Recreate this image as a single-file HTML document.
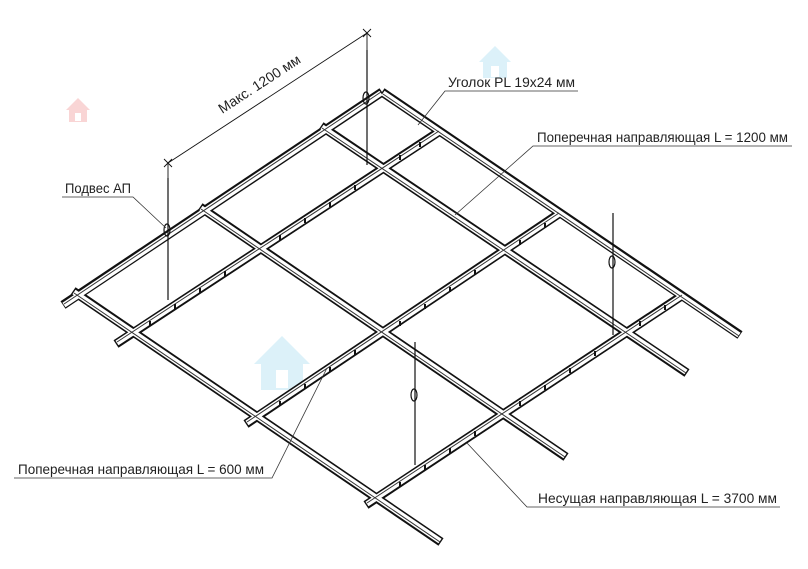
<!DOCTYPE html>
<html><head><meta charset="utf-8"><style>
html,body{margin:0;padding:0;background:#fff}
svg{display:block}
text{font-family:"Liberation Sans",sans-serif;fill:#222}
</style></head><body>
<svg width="808" height="569" viewBox="0 0 808 569" xmlns="http://www.w3.org/2000/svg">
<g opacity="0.35">
<g fill="#e88" transform="translate(78,108)"><path d="M-12,2 L0,-10 L12,2 L9,2 L9,14 L-9,14 L-9,2Z"/><rect x="-3" y="5" width="6" height="8" fill="#fff"/></g>
<g fill="#9cd6ee" transform="translate(495,60)"><path d="M-16,2 L0,-14 L16,2 L12,2 L12,18 L-12,18 L-12,2Z"/><rect x="-4" y="6" width="8" height="11" fill="#fff"/></g>
<g fill="#9cd6ee" transform="translate(282,362)"><path d="M-28,2 L0,-26 L28,2 L21,2 L21,28 L-21,28 L-21,2Z"/><rect x="-6" y="8" width="12" height="18" fill="#fff"/></g>
</g>
<g stroke-linecap="butt" fill="none">
<g stroke="#111" stroke-width="9">
<line x1="63" y1="305" x2="382" y2="92"/>
<line x1="382" y1="92" x2="740" y2="335"/>
<line x1="73" y1="291" x2="441" y2="542"/>
<line x1="200" y1="207" x2="566" y2="457"/>
<line x1="321" y1="126" x2="687" y2="373"/>
<line x1="116" y1="344" x2="440" y2="131"/>
<line x1="246" y1="424" x2="560" y2="213"/>
<line x1="366" y1="505" x2="683" y2="295"/>
</g>
<g stroke="#fff" stroke-width="5.5">
<line x1="64" y1="305" x2="381" y2="93"/>
<line x1="383" y1="93" x2="739" y2="335"/>
<line x1="74" y1="292" x2="440" y2="541"/>
<line x1="201" y1="208" x2="565" y2="456"/>
<line x1="322" y1="127" x2="686" y2="372"/>
<line x1="117" y1="343" x2="439" y2="132"/>
<line x1="247" y1="423" x2="559" y2="214"/>
<line x1="367" y1="504" x2="682" y2="296"/>
</g>
<g stroke="#333" stroke-width="1">
<line x1="64" y1="304" x2="381" y2="92"/>
<line x1="383" y1="94" x2="739" y2="336"/>
<line x1="74" y1="293" x2="440" y2="542"/>
<line x1="201" y1="209" x2="565" y2="457"/>
<line x1="322" y1="128" x2="686" y2="373"/>
<line x1="117" y1="342" x2="439" y2="131"/>
<line x1="247" y1="422" x2="559" y2="213"/>
<line x1="367" y1="503" x2="682" y2="295"/>
</g>
<g stroke="#111" stroke-width="2">
<path d="M150,321v5M175,304v5M200,288v5M225,271v5M280,235v5M305,218v5M330,202v5M355,185v5M400,155v5M420,142v5"/>
<path d="M280,401v5M305,384v5M330,367v5M355,350v5M400,321v5M425,304v5M450,287v5M475,270v5M520,240v5M545,223v5"/>
<path d="M400,482v5M425,465v5M450,448v5M475,431v5M520,401v5M545,385v5M570,368v5M595,351v5M640,321v5M665,305v5"/>
</g>
<g stroke="#111" stroke-width="1.2">
<line x1="168" y1="178" x2="168" y2="300"/>
<line x1="367" y1="50" x2="367" y2="165"/>
<line x1="613" y1="213" x2="613" y2="335"/>
<line x1="415" y1="342" x2="415" y2="465"/>
<ellipse cx="167" cy="230" rx="3" ry="6"/>
<ellipse cx="366" cy="98" rx="3" ry="6"/>
<ellipse cx="612" cy="262" rx="3" ry="6"/>
<ellipse cx="414" cy="395" rx="3" ry="6"/>
</g>
<g stroke="#111" stroke-width="0.9">
<line x1="168" y1="163" x2="367" y2="33"/>
<path d="M164,159l8,8M164,167l8,-8M363,29l8,8M363,37l8,-8"/>
<line x1="168" y1="163" x2="168" y2="178"/>
<line x1="367" y1="33" x2="367" y2="50"/>
</g>
<g stroke="#333" stroke-width="0.8">
<path d="M578,91H445L418,125"/>
<path d="M792,146H533L455,215"/>
<path d="M62,197H133L166,228"/>
<path d="M14,478H272L327,368"/>
<path d="M780,507H527L467,443"/>
</g>
</g>
<text x="262" y="88" font-size="14" text-anchor="middle" transform="rotate(-33.2 262 88)">Макс. 1200 мм</text>
<text x="448" y="87" font-size="14" textLength="127" lengthAdjust="spacingAndGlyphs">Уголок PL 19x24 мм</text>
<text x="537" y="142" font-size="14" textLength="251" lengthAdjust="spacingAndGlyphs">Поперечная направляющая L = 1200 мм</text>
<text x="65" y="193" font-size="14" textLength="66" lengthAdjust="spacingAndGlyphs">Подвес АП</text>
<text x="18" y="474" font-size="14" textLength="246" lengthAdjust="spacingAndGlyphs">Поперечная направляющая L = 600 мм</text>
<text x="538" y="503" font-size="14" textLength="239" lengthAdjust="spacingAndGlyphs">Несущая направляющая L = 3700 мм</text>
</svg>
</body></html>
